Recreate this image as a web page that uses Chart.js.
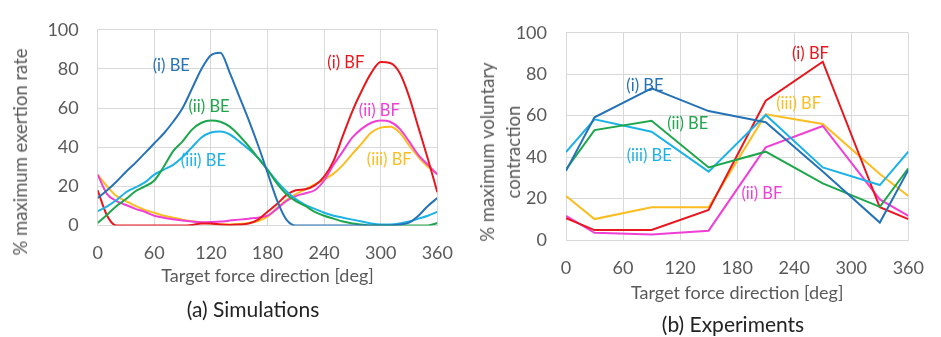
<!DOCTYPE html>
<html>
<head>
<meta charset="utf-8">
<script src="https://cdn.jsdelivr.net/npm/chart.js@4"></script>
<style>
  body { margin: 0; background: #fff; }
  #wrap { position: relative; width: 941px; height: 337px; overflow: hidden; font-family: Lato, sans-serif; color: #595959; }
  .pane { position: absolute; top: 0; height: 337px; }
  .cap { position: absolute; white-space: nowrap; font-size: 21px; transform: translate(-50%, -50%); color: #222; }
  .ytitle { position: absolute; white-space: nowrap; font-size: 18.5px; text-align: center; line-height: 26px;
            transform: translate(-50%, -50%) rotate(-90deg); }
</style>
</head>
<body>
<div id="wrap">
  <div class="pane" style="left:0;width:470px"><canvas id="sim" width="470" height="337"></canvas></div>
  <div class="pane" style="left:470px;width:471px"><canvas id="exp" width="471" height="337"></canvas></div>
  <div class="ytitle" style="left:20px;top:152px">% maximum exertion rate</div>
  <div class="ytitle" style="left:500px;top:152px">% maximum voluntary<br>contraction</div>
  <div class="cap" style="left:253px;top:308px">(a) Simulations</div>
  <div class="cap" style="left:733px;top:323px">(b) Experiments</div>
</div>
<script>
// series names and colours
const seriesNames = ['(i) BE', '(ii) BE', '(iii) BE', '(i) BF', '(ii) BF', '(iii) BF'];
const seriesColors = ['#2672b6', '#1ea64c', '#1db2e6', '#e8161d', '#ef3fd5', '#fbbd1f'];

// (a) simulations, every 10 deg
const simAngles = [0, 10, 20, 30, 40, 50, 60, 70, 80, 90, 100, 110, 120, 130, 140, 150, 160, 170, 180,
  190, 200, 210, 220, 230, 240, 250, 260, 270, 280, 290, 300, 310, 320, 330, 340, 350, 360];
const simBE1 = [14, 18, 22.5, 27.5, 32, 37, 42, 47, 53, 60, 70, 80, 87, 88.3, 78, 66, 54, 41, 27,
  13, 3, 0, 0, 0, 0, 0, 0, 0, 0, 0, 0, 0, 0.5, 1.5, 5, 10, 14];
const simBE2 = [1.3, 5.5, 10, 13.5, 17.5, 20, 23, 30, 38, 43, 49, 52.5, 53.7, 53, 50.5, 46, 40.5, 34.5, 28.5,
  21.5, 16, 12.5, 10, 7, 5, 3.5, 2, 1, 0.5, 0, 0, 0, 0, 0, 0, 0, 1.3];
const simBE3 = [7.3, 9.8, 13, 17, 19.5, 22, 26, 28.5, 31, 35, 40, 45, 47.5, 48, 46.5, 43, 39, 34.5, 28.5,
  22.5, 17.5, 13.5, 10.5, 8.5, 6.5, 5, 4, 3, 2, 1, 0.5, 0.5, 1, 2, 3.5, 5, 7];
const simBF1 = [18, 5, 0, 0, 0, 0, 0, 0, 0, 0, 0.3, 1, 1, 0.5, 0.3, 0.5, 1, 3, 7,
  11, 15.5, 18, 18.5, 20.5, 25, 33, 46, 58.5, 69, 78, 83.5, 83, 78, 66, 50, 34, 17];
const simBF2 = [26, 16, 12.5, 10.5, 8.5, 7, 5, 4, 3.2, 2.5, 2, 1.7, 1.8, 2, 2.5, 3, 3.5, 4, 5,
  8.5, 12.5, 15, 16.5, 18, 23, 31, 38, 45, 49.5, 52.5, 53.7, 53, 49.5, 43, 36, 31, 26];
const simBF3 = [26, 20, 15, 12.5, 10, 8, 6.5, 5, 4, 3, 2.2, 1.5, 1, 0.6, 0.5, 0.8, 1.3, 2.3, 4.5,
  9, 13, 16, 18.5, 21, 23.5, 26.5, 31, 36.6, 42, 47.5, 50, 50.4, 47.5, 41, 35, 30, 26.5];

// (b) experiments
const expAngles = [0, 30, 90, 150, 210, 270, 330, 360];
const expBE1 = [33.4, 59.2, 73.2, 62.2, 56.8, 33, 8.4, 33.8];
const expBE2 = [34, 53, 57.5, 35, 42.6, 27.3, 16, 34.6];
const expBE3 = [42.4, 58.2, 52.2, 33, 60.3, 35, 26.5, 42.6];
const expBF1 = [10.5, 4.8, 4.8, 14.5, 67.2, 86, 15.8, 10.1];
const expBF2 = [11.6, 3.5, 2.7, 4.5, 44.7, 55, 19.6, 11.6];
const expBF3 = [21.2, 10.1, 15.8, 15.8, 60.6, 56, 31.8, 21.2];

const xTicks = [0, 60, 120, 180, 240, 300, 360];
const yTicks = [0, 20, 40, 60, 80, 100];

// where the series names sit, in data units [deg, value]
const simLabelAt = [[78, 81.6], [118, 60.5], [112, 33.3], [263, 83], [298.5, 58.5], [309, 33.8]];
const expLabelAt = [[83, 74.3], [128, 56], [87.5, 40.5], [257, 90], [206, 22.5], [244.6, 65.6]];

const textGray = '#595959';
const gridGray = '#d9d9d9';

function toPoints(xs, ys) {
  return xs.map((x, i) => ({ x, y: ys[i] }));
}

function makeDatasets(xs, rows, smooth) {
  return rows.map((ys, i) => ({
    label: seriesNames[i],
    data: toPoints(xs, ys),
    borderColor: seriesColors[i],
    backgroundColor: seriesColors[i],
    borderWidth: 2,
    pointRadius: 0,
    fill: false,
    cubicInterpolationMode: smooth ? 'monotone' : 'default',
    tension: 0
  }));
}

const seriesLabels = {
  id: 'seriesLabels',
  afterDatasetsDraw(chart, args, opts) {
    const { ctx, scales } = chart;
    ctx.save();
    ctx.font = '16.5px Lato';
    ctx.textAlign = 'center';
    ctx.textBaseline = 'middle';
    opts.at.forEach((p, i) => {
      ctx.fillStyle = seriesColors[i];
      ctx.fillText(seriesNames[i], scales.x.getPixelForValue(p[0]), scales.y.getPixelForValue(p[1]));
    });
    ctx.restore();
  }
};

function makeChart(id, datasets, labelAt, geo) {
  return new Chart(document.getElementById(id), {
    type: 'line',
    data: { datasets },
    plugins: [seriesLabels],
    options: {
      responsive: false,
      animation: false,
      devicePixelRatio: 1,
      layout: { padding: { top: geo.top, right: geo.right, bottom: geo.bottom, left: 0 } },
      plugins: {
        legend: { display: false },
        tooltip: { enabled: false },
        seriesLabels: { at: labelAt }
      },
      scales: {
        x: {
          type: 'linear',
          min: 0, max: 360,
          afterBuildTicks: s => { s.ticks = xTicks.map(v => ({ value: v })); },
          afterFit: s => { s.height = geo.xh; },
          grid: { color: gridGray, drawTicks: false },
          border: { color: gridGray },
          ticks: { color: textGray, font: { family: 'Lato', size: 18 }, padding: 17, maxRotation: 0 },
          title: { display: true, text: 'Target force direction [deg]', color: textGray,
                   font: { family: 'Lato', size: 18 }, padding: 0 }
        },
        y: {
          min: 0, max: 100,
          afterBuildTicks: s => { s.ticks = yTicks.map(v => ({ value: v })); },
          afterFit: s => { s.width = geo.yw; },
          grid: { color: gridGray, drawTicks: false },
          border: { color: gridGray },
          ticks: { color: textGray, font: { family: 'Lato', size: 18 }, padding: 19 }
        }
      }
    }
  });
}

makeChart('sim', makeDatasets(simAngles, [simBE1, simBE2, simBE3, simBF1, simBF2, simBF3], true),
  simLabelAt, { top: 19.5, right: 18.7, bottom: 49.8, xh: 61.7, yw: 97.7 });
makeChart('exp', makeDatasets(expAngles, [expBE1, expBE2, expBE3, expBF1, expBF2, expBF3], false),
  expLabelAt, { top: 32.7, right: 18.3, bottom: 33.5, xh: 63.5, yw: 96 });
</script>
</body>
</html>
